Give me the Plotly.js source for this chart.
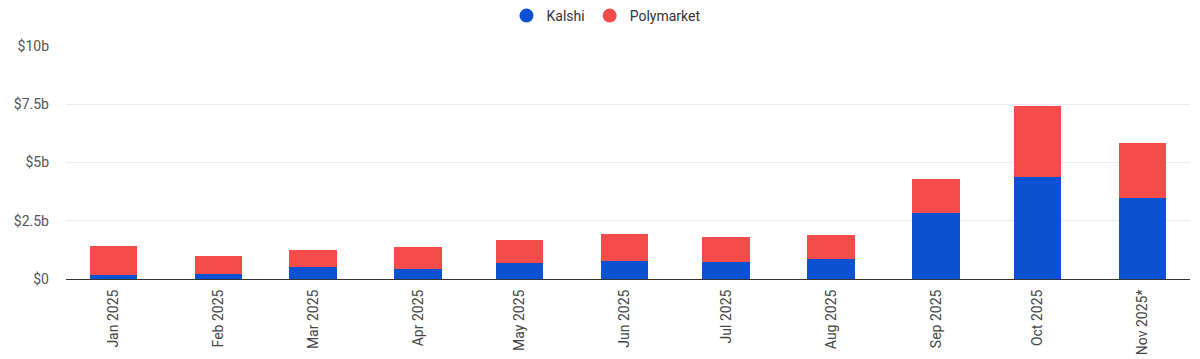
<!DOCTYPE html>
<html>
<head>
<meta charset="utf-8">
<script src="https://cdn.plot.ly/plotly-3.0.1.min.js"></script>
<style>
html,body{margin:0;padding:0;background:#fff;}
#chart{width:1200px;height:359px;}
</style>
</head>
<body>
<div id="chart"></div>
<script>
const months = ['2025-01-01','2025-02-01','2025-03-01','2025-04-01','2025-05-01','2025-06-01','2025-07-01','2025-08-01','2025-09-01','2025-10-01','2025-11-01'];
const monthLabels = ['Jan 2025','Feb 2025','Mar 2025','Apr 2025','May 2025','Jun 2025','Jul 2025','Aug 2025','Sep 2025','Oct 2025','Nov 2025*'];
const kalshi = [0.17, 0.21, 0.50, 0.45, 0.67, 0.79, 0.74, 0.88, 2.84, 4.38, 3.47];
const polymarket = [1.26, 0.79, 0.76, 0.91, 1.00, 1.14, 1.05, 1.01, 1.44, 3.03, 2.35];
const yTickVals = [0, 2.5, 5, 7.5, 10];
const yTickText = ['$0', '$2.5b', '$5b', '$7.5b', '$10b'];

const KALSHI_COLOR = '#0c51d1';
const POLY_COLOR = '#f44b4b';
const DAY = 86400000;
const barWidth = months.map(() => 14 * DAY);

const traces = [
  {type:'bar', name:'Kalshi', x:months, y:kalshi, width:barWidth,
   marker:{color:KALSHI_COLOR, line:{width:0}}, showlegend:false, legendgroup:'k'},
  {type:'bar', name:'Polymarket', x:months, y:polymarket, width:barWidth,
   marker:{color:POLY_COLOR, line:{width:0}}, showlegend:false, legendgroup:'p'},
  {type:'scatter', mode:'markers', name:'Kalshi', x:[null], y:[null],
   marker:{color:KALSHI_COLOR, size:14, symbol:'circle'}, legendgroup:'k'},
  {type:'scatter', mode:'markers', name:'Polymarket', x:[null], y:[null],
   marker:{color:POLY_COLOR, size:14, symbol:'circle'}, legendgroup:'p'}
];

const layout = {
  width:1200, height:359,
  margin:{l:66, r:10, t:46, b:80},
  paper_bgcolor:'#ffffff', plot_bgcolor:'#ffffff',
  font:{family:'Roboto, Arial, sans-serif', size:13, color:'#444'},
  barmode:'stack',
  bargap:0,
  showlegend:true,
  legend:{orientation:'h', x:0.505, xanchor:'center', xref:'container', y:1, yanchor:'top', yref:'container',
          font:{family:'Roboto, Arial, sans-serif', size:14, color:'#333'}, traceorder:'normal',
          itemclick:false},
  xaxis:{type:'date', range:['2024-12-18','2025-11-15'],
         tickvals:months, ticktext:monthLabels, tickangle:-90,
         showgrid:false, zeroline:false, showline:true, linecolor:'#333', linewidth:1,
         ticks:'', ticklabelstandoff:4, tickfont:{size:14, color:'#444'}},
  yaxis:{range:[0,10], tickvals:yTickVals, ticktext:yTickText,
         showgrid:true, gridcolor:'#ececec', gridwidth:1, zeroline:false, showline:false,
         ticks:'', ticklen:0, ticklabelstandoff:16, tickfont:{size:14, color:'#555'}, automargin:false}
};

Plotly.newPlot('chart', traces, layout, {displayModeBar:false, staticPlot:true});
</script>
</body>
</html>
